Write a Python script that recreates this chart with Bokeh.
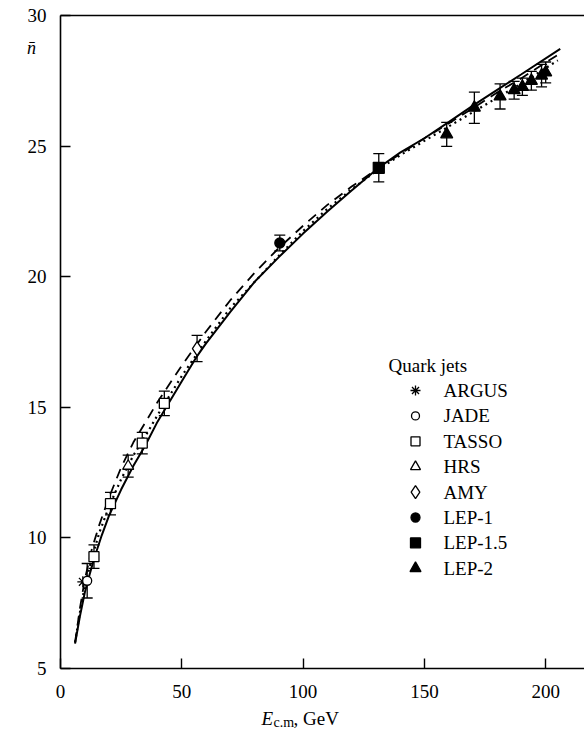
from bokeh.plotting import figure
from bokeh.models import Whisker, Label, FixedTicker, Range1d, ColumnDataSource, LinearAxis
from bokeh.embed import file_html
from bokeh.resources import INLINE

# ---------------- data ----------------
argus_e = [9.2]
argus_n = [8.32]

jade_e = [11.0]
jade_n = [8.36]
jade_err = [0.66]

tasso_e = [13.8, 20.6, 33.7, 42.8]
tasso_n = [9.28, 11.31, 13.63, 15.15]
tasso_err = [0.45, 0.43, 0.41, 0.47]

hrs_e = [27.9]
hrs_n = [12.75]
hrs_err = [0.42]

amy_e = [56.3]
amy_n = [17.25]
amy_err = [0.5]

lep1_e = [90.4]
lep1_n = [21.29]
lep1_err = [0.3]

lep15_e = [131.2]
lep15_n = [24.17]
lep15_err = [0.54]

lep2_e = [159.2, 170.6, 181.2, 187.0, 190.4, 194.1, 198.3, 200.0]
lep2_n = [25.45, 26.47, 26.90, 27.14, 27.27, 27.50, 27.70, 27.82]
lep2_err = [0.46, 0.60, 0.48, 0.34, 0.33, 0.36, 0.43, 0.40]

# theory curves
solid_e = [6.0, 8, 10, 12, 14, 17, 20, 25, 30, 35, 40, 45, 50, 56, 60, 70, 80, 90,
           100, 110, 120, 131, 140, 150, 160, 170, 180, 190, 206]
solid_n = [5.95, 7.0, 7.9, 8.6, 9.25, 10.1, 10.85, 11.85, 12.75, 13.55, 14.45, 15.22,
           16.0, 16.92, 17.45, 18.65, 19.8, 20.75, 21.65, 22.5, 23.3, 24.16, 24.75,
           25.3, 25.92, 26.55, 27.15, 27.75, 28.72]

dashed_e = [6.0, 8, 10, 13, 16, 20, 25, 30, 40, 50, 60, 70, 80, 90, 100, 110, 120,
            131, 140, 150, 160, 170, 180, 190, 200, 206]
dashed_n = [6.0, 7.3, 8.4, 9.6, 10.5, 11.55, 12.7, 13.65, 15.2, 16.6, 17.9, 19.1,
            20.15, 21.1, 21.95, 22.75, 23.45, 24.15, 24.7, 25.3, 25.87, 26.45, 27.05,
            27.6, 28.2, 28.55]

dotted_e = [6.0, 8, 10, 13, 16, 20, 25, 30, 35, 40, 50, 60, 70, 80, 90, 100, 110,
            120, 131, 140, 150, 160, 170, 180, 190, 205]
dotted_n = [6.0, 7.15, 8.15, 9.25, 10.2, 11.2, 12.25, 13.15, 13.9, 14.7, 16.2, 17.55,
            18.8, 19.8, 20.8, 21.75, 22.6, 23.35, 24.1, 24.65, 25.2, 25.75, 26.3,
            26.85, 27.4, 28.28]

x_ticks = [0, 50, 100, 150, 200]
y_ticks = [5, 10, 15, 20, 25, 30]

legend_title = "Quark jets"
legend_names = ["ARGUS", "JADE", "TASSO", "HRS", "AMY", "LEP-1", "LEP-1.5", "LEP-2"]

# ---------------- layout ----------------
W, H = 584, 731
L, R, T, B = 60, 0, 15, 63          # axes box inside the canvas, in pixels
X0, X1 = 0, 216
Y0, Y1 = 5, 30
FONT = "Liberation Serif"

def px2x(px):
    return X0 + (px - L) * (X1 - X0) / (W - L - R)

def py2y(py):
    return Y1 - (py - T) * (Y1 - Y0) / (H - T - B)

p = figure(width=W, height=H, output_backend="svg", toolbar_location=None,
           x_range=Range1d(px2x(0), px2x(W)), y_range=Range1d(py2y(H), py2y(0)),
           x_axis_location=None, y_axis_location=None,
           min_border=0)
p.outline_line_color = None
p.grid.visible = False
p.background_fill_color = "white"
p.border_fill_color = "white"

xaxis = LinearAxis(fixed_location=Y0, bounds=(X0, X1), ticker=FixedTicker(ticks=x_ticks))
yaxis = LinearAxis(fixed_location=X0, bounds=(Y0, Y1), ticker=FixedTicker(ticks=y_ticks))
topaxis = LinearAxis(fixed_location=Y1, bounds=(X0, X1), ticker=FixedTicker(ticks=[]))
for ax in (xaxis, yaxis, topaxis):
    ax.axis_line_color = "black"
    ax.axis_line_width = 1.6
    ax.major_tick_in = 10
    ax.major_tick_out = 0
    ax.major_tick_line_width = 1.4
    ax.minor_tick_line_color = None
    ax.major_label_text_font = FONT
    ax.major_label_text_font_size = "19px"
    ax.major_label_text_color = "black"
xaxis.major_label_standoff = 16
yaxis.major_label_standoff = 14
topaxis.major_tick_line_color = None
topaxis.major_label_text_color = None
p.add_layout(xaxis, "below")
p.add_layout(yaxis, "left")
p.add_layout(topaxis, "above")

# curves
p.line(dashed_e, dashed_n, line_color="black", line_width=1.8, line_dash="10 7")
p.line(dotted_e, dotted_n, line_color="black", line_width=2.2, line_dash="2 4")
p.line(solid_e, solid_n, line_color="black", line_width=2.0)

# error bars
def errbars(e, n, err):
    src = ColumnDataSource(dict(x=e, lo=[a - b for a, b in zip(n, err)],
                                hi=[a + b for a, b in zip(n, err)]))
    w = Whisker(source=src, base="x", lower="lo", upper="hi", dimension="height",
                line_color="black", line_width=1.3)
    w.upper_head.size = 11
    w.lower_head.size = 11
    w.upper_head.line_width = 1.3
    w.lower_head.line_width = 1.3
    p.add_layout(w)

errbars(jade_e, jade_n, jade_err)
errbars(tasso_e, tasso_n, tasso_err)
errbars(hrs_e, hrs_n, hrs_err)
errbars(amy_e, amy_n, amy_err)
errbars(lep1_e, lep1_n, lep1_err)
errbars(lep15_e, lep15_n, lep15_err)
errbars(lep2_e, lep2_n, lep2_err)

styles = [
    ("asterisk", 11, "black"),
    ("circle", 9, "white"),
    ("square", 10, "white"),
    ("triangle", 11, "white"),
    ("diamond", 14, "white"),
    ("circle", 10, "black"),
    ("square", 11, "black"),
    ("triangle", 12, "black"),
]
sets = [(argus_e, argus_n), (jade_e, jade_n), (tasso_e, tasso_n), (hrs_e, hrs_n),
        (amy_e, amy_n), (lep1_e, lep1_n), (lep15_e, lep15_n), (lep2_e, lep2_n)]

for (m, s, fill), (e, n) in zip(styles, sets):
    p.scatter(e, n, marker=m, size=s, fill_color=fill, line_color="black", line_width=1.3)

# legend (manual)
p.add_layout(Label(x=px2x(388), y=py2y(365), text=legend_title, text_font=FONT,
                   text_font_size="19px", text_baseline="middle", text_align="left",
                   text_color="black"))
for i, ((m, s, fill), name) in enumerate(zip(styles, legend_names)):
    yy = py2y(390 + 25.4 * i)
    p.scatter([px2x(415)], [yy], marker=m, size=s - 1, fill_color=fill,
              line_color="black", line_width=1.3)
    p.add_layout(Label(x=px2x(443), y=yy, text=name, text_font=FONT,
                       text_font_size="19px", text_baseline="middle",
                       text_align="left", text_color="black"))

# axis titles
p.add_layout(Label(x=px2x(31), y=py2y(47), text="n\u0304", text_font=FONT,
                   text_font_style="italic", text_font_size="18px",
                   text_baseline="middle", text_align="center", text_color="black"))
p.add_layout(Label(x=px2x(261), y=py2y(718), text="E", text_font=FONT,
                   text_font_style="italic", text_font_size="19px",
                   text_baseline="middle", text_align="left", text_color="black"))
p.add_layout(Label(x=px2x(273), y=py2y(722), text="c.m", text_font=FONT,
                   text_font_size="14px", text_baseline="middle",
                   text_align="left", text_color="black"))
p.add_layout(Label(x=px2x(293), y=py2y(718), text=", GeV", text_font=FONT,
                   text_font_size="19px", text_baseline="middle",
                   text_align="left", text_color="black"))

open("out.html", "w").write(file_html(p, INLINE))
